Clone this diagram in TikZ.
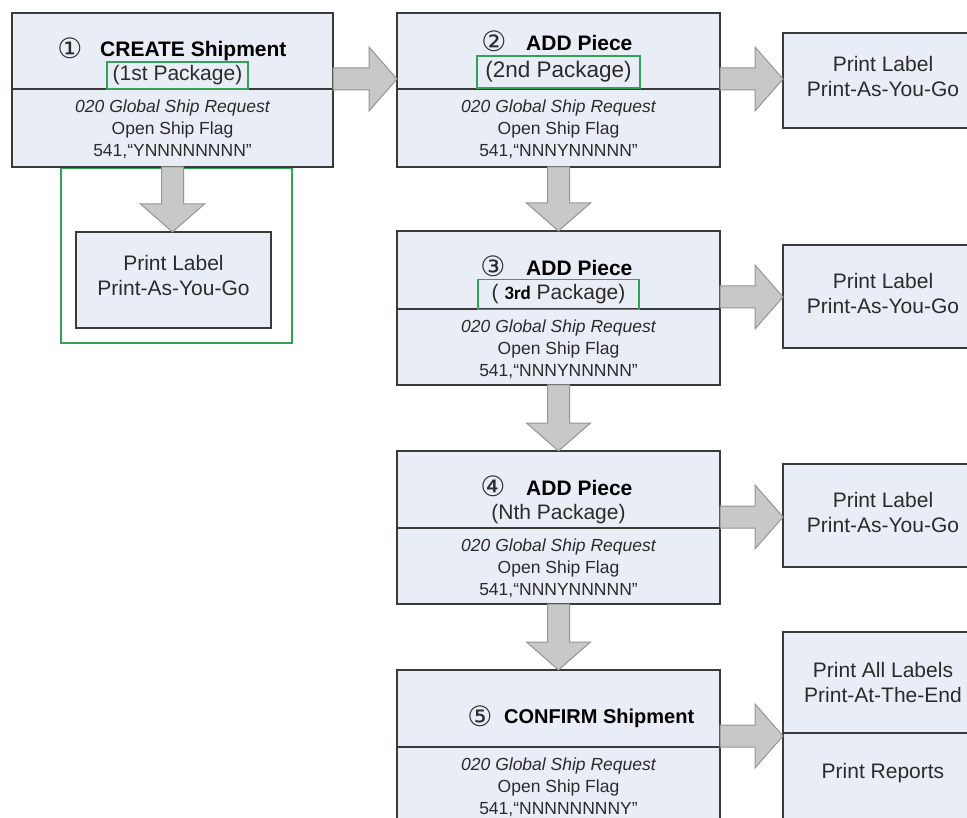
\documentclass[tikz,border=0pt]{standalone}
\usepackage{fontspec}
\setmainfont{Liberation Sans}
\newfontfamily\symf{DejaVu Sans}
\newfontfamily\carl{Carlito}
\usetikzlibrary{calc}
\definecolor{boxfill}{HTML}{E9EDF6}
\definecolor{boxline}{HTML}{3A3A3A}
\definecolor{grn}{HTML}{35A057}
\definecolor{arrfill}{HTML}{C8C8C8}
\definecolor{arrline}{HTML}{959595}
\definecolor{txt}{HTML}{2B2B2B}
\newcommand\fs[1]{\fontsize{#1}{#1}\selectfont}
\newcommand\harrow[2]{\draw[blk] ($(#1)+(0,-11)$) -- ($(#2)+(-28,-11)$) -- ($(#2)+(-28,-32)$) -- (#2) -- ($(#2)+(-28,32)$) -- ($(#2)+(-28,11)$) -- ($(#1)+(0,11)$) -- cycle;}
\newcommand\varrow[2]{\draw[blk] ($(#1)+(-11,0)$) -- ($(#2)+(-11,-28)$) -- ($(#2)+(-32,-28)$) -- (#2) -- ($(#2)+(32,-28)$) -- ($(#2)+(11,-28)$) -- ($(#1)+(11,0)$) -- cycle;}
\begin{document}
\begin{tikzpicture}[x=1pt,y=-1pt,
 box/.style={draw=boxline, line width=1.8pt, fill=boxfill, inner sep=0pt, outer sep=0pt, anchor=north west, rectangle},
 divl/.style={draw=boxline, line width=1.8pt},
 blk/.style={fill=arrfill, draw=arrline, line width=1pt, line join=miter},
 ttl/.style={font=\fs{21}\bfseries, text=black, inner sep=0pt, anchor=west},
 num/.style={font=\symf\fs{28}, text=txt, inner sep=0pt},
 sub/.style={font=\fs{21}, text=txt, inner sep=0pt},
 body/.style={font=\fontsize{17.5}{22}\selectfont, text=txt, inner sep=0pt, align=center},
 gbox/.style={draw=grn, line width=1.8pt, inner sep=0pt},
 plab/.style={font=\fontsize{21}{25}\selectfont, text=txt, align=center, inner sep=0pt},
]
\useasboundingbox (0,0) rectangle (967,818);
\clip (0,0) rectangle (967,818);
\fill[white] (0,0) rectangle (967,818);

% green group rectangle
\node[gbox, anchor=north west, minimum width=231pt, minimum height=175pt] (grp) at (60,167) {};

% boxes
\node[box, minimum width=321pt, minimum height=154pt] (b1) at (12,13) {};
\node[box, minimum width=195pt, minimum height=96pt] (pl) at (76,232) {};
\node[box, minimum width=323pt, minimum height=154pt] (b2) at (397,13) {};
\node[box, minimum width=200pt, minimum height=95pt] (p1) at (783,33) {};
\node[box, minimum width=323pt, minimum height=154pt] (b3) at (397,231) {};
\node[box, minimum width=200pt, minimum height=103pt] (p2) at (783,245) {};
\node[box, minimum width=323pt, minimum height=153pt] (b4) at (397,451) {};
\node[box, minimum width=200pt, minimum height=103pt] (p3) at (783,464) {};
\node[box, minimum width=323pt, minimum height=160pt] (b5) at (397,670) {};
\node[box, minimum width=200pt, minimum height=200pt] (p4) at (783,632) {};

% dividers
\draw[divl] ($(b1.north west)+(0,76)$) -- ($(b1.north east)+(0,76)$);
\draw[divl] ($(b2.north west)+(0,76)$) -- ($(b2.north east)+(0,76)$);
\draw[divl] ($(b3.north west)+(0,78)$) -- ($(b3.north east)+(0,78)$);
\draw[divl] ($(b4.north west)+(0,77)$) -- ($(b4.north east)+(0,77)$);
\draw[divl] ($(b5.north west)+(0,77)$) -- ($(b5.north east)+(0,77)$);
\draw[divl] ($(p4.north west)+(0,101)$) -- ($(p4.north east)+(0,101)$);

% arrow end points
\coordinate (a12s) at ($(b1.north east)+(0,66)$);
\coordinate (a12e) at ($(b2.north west)+(0,66)$);
\coordinate (a2ps) at ($(b2.north east)+(0,66)$);
\coordinate (a2pe) at (p1.west |- a2ps);
\coordinate (a3ps) at ($(b3.north east)+(0,66)$);
\coordinate (a3pe) at (p2.west |- a3ps);
\coordinate (a4ps) at ($(b4.north east)+(0,66)$);
\coordinate (a4pe) at (p3.west |- a4ps);
\coordinate (a5ps) at ($(b5.north east)+(0,66)$);
\coordinate (a5pe) at (p4.west |- a5ps);
\coordinate (a1ls) at (b1.south);
\coordinate (a1le) at (pl.north -| b1.south);

\harrow{a12s}{a12e}
\harrow{a2ps}{a2pe}
\harrow{a3ps}{a3pe}
\harrow{a4ps}{a4pe}
\harrow{a5ps}{a5pe}
\varrow{a1ls}{a1le}
\varrow{b2.south}{b3.north}
\varrow{b3.south}{b4.north}
\varrow{b4.south}{b5.north}

% box 1
\node[num] (n1) at (70,48) {①};
\node[ttl] (t1) at (100,51) {CREATE Shipment};
\node[gbox, sub, minimum width=141pt, minimum height=27pt] (s1) at (177.5,75.5) {(1st Package)};
\node[body] (d1) at (172.5,129) {\itshape 020 Global Ship Request\\Open Ship Flag\\541,“YNNNNNNNN”};

% box 2
\node[num] (n2) at (494,41) {②};
\node[ttl] (t2) at (526,43) {ADD Piece};
\node[gbox, sub, font=\fs{22.5}, minimum width=163pt, minimum height=32pt] (s2) at (558.5,72) {(2nd Package)};
\node[body] (d2) at (558.5,129) {\itshape 020 Global Ship Request\\Open Ship Flag\\541,“NNNYNNNNN”};

% box 3
\node[num] (n3) at (493,266) {③};
\node[ttl] (t3) at (526,268) {ADD Piece};
\node[gbox, sub, minimum width=161pt, minimum height=30pt] (s3) at (558.5,294.5) {( {\carl\bfseries\color{black}\fs{19}3rd} Package)};
\node[body] (d3) at (558.5,349) {\itshape 020 Global Ship Request\\Open Ship Flag\\541,“NNNYNNNNN”};

% box 4
\node[num] (n4) at (493,486) {④};
\node[ttl] (t4) at (526,488) {ADD Piece};
\node[sub] (s4) at (558.5,514) {(Nth Package)};
\node[body] (d4) at (558.5,568) {\itshape 020 Global Ship Request\\Open Ship Flag\\541,“NNNYNNNNN”};

% box 5
\node[num] (n5) at (480,716) {⑤};
\node[ttl, font=\fs{20}\bfseries] (t5) at (504,718) {CONFIRM Shipment};
\node[body] (d5) at (558.5,787) {\itshape 020 Global Ship Request\\Open Ship Flag\\541,“NNNNNNNNY”};

% print boxes
\node[plab] (lp1) at (883,76) {Print Label\\Print-As-You-Go};
\node[plab] (lp2) at (883,293) {Print Label\\Print-As-You-Go};
\node[plab] (lp3) at (883,512) {Print Label\\Print-As-You-Go};
\node[plab] (lpl) at (173.5,275) {Print Label\\Print-As-You-Go};
\node[plab] (lp4) at (883,682) {Print All Labels\\Print-At-The-End};
\node[plab] (lp5) at (883,773) {Print Reports};
\end{tikzpicture}
\end{document}
